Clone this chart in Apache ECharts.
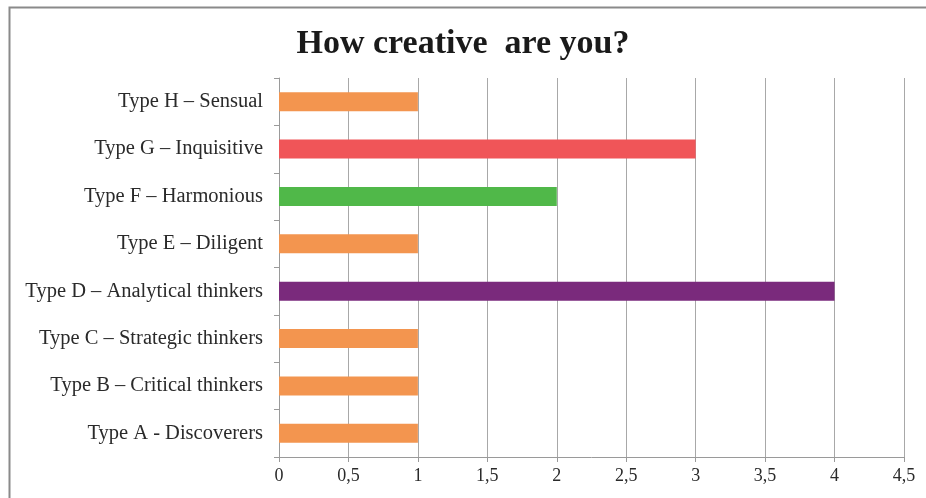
<!DOCTYPE html>
<html><head><meta charset="utf-8">
<script src="https://cdn.jsdelivr.net/npm/echarts@6/dist/echarts.min.js"></script>
<style>html,body{margin:0;padding:0;background:#fff}#c{width:926px;height:498px}</style>
</head><body><div id="c"></div>
<script>
const categories = ["Type A - Discoverers","Type B – Critical thinkers","Type C – Strategic thinkers","Type D – Analytical thinkers","Type E – Diligent","Type F – Harmonious","Type G – Inquisitive","Type H – Sensual"];
const values = [1,1,1,4,1,2,3,1];
const barColors = ["#F3954F","#F3954F","#F3954F","#7A2A7C","#F3954F","#50B849","#F05558","#F3954F"];
const xTicks = {min:0,max:4.5,interval:0.5};
const serif = "'Liberation Serif','Times New Roman',serif";
const chart = echarts.init(document.getElementById('c'));
chart.setOption({
  animation:false,
  title:{text:"How creative  are you?",left:'center',top:22,textStyle:{fontFamily:serif,fontWeight:'bold',fontSize:34,color:'#1a1a1a'}},
  graphic:[{type:'rect',shape:{x:9.5,y:7.5,width:960,height:520},style:{fill:'none',stroke:'#8a8a8a',lineWidth:2},silent:true}],
  grid:{left:279,right:22,top:78,bottom:41},
  xAxis:{type:'value',min:xTicks.min,max:xTicks.max,interval:xTicks.interval,
    axisLine:{show:true,lineStyle:{color:'#9a9a9a'}},
    axisTick:{show:true,length:5,lineStyle:{color:'#9a9a9a'}},
    splitLine:{show:true,lineStyle:{color:'#a8a8a8',width:1}},
    axisLabel:{margin:10,fontFamily:serif,fontSize:18,color:'#2a2a2a',formatter:v=>String(v).replace('.',',')}},
  yAxis:{type:'category',data:categories,
    axisLine:{show:true,lineStyle:{color:'#9a9a9a'}},
    axisTick:{show:true,length:5,lineStyle:{color:'#9a9a9a'}},
    axisLabel:{margin:16,fontFamily:serif,fontSize:20.5,color:'#2a2a2a'}},
  series:[{type:'bar',data:values.map((v,i)=>({value:v,itemStyle:{color:barColors[i]}})),barWidth:'40%'}]
});
</script></body></html>
